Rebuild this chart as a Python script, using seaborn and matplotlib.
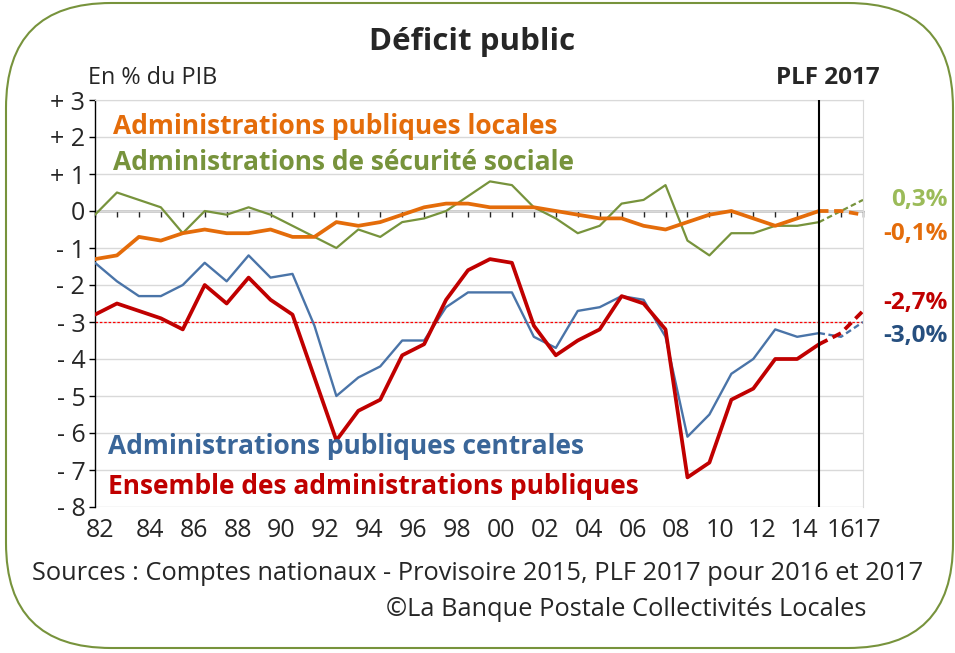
import matplotlib
matplotlib.use("Agg")
import pandas as pd
import matplotlib.pyplot as plt
import seaborn as sns
from matplotlib.patches import FancyBboxPatch

# Data (% du PIB), 1982-2017 ; 2016-2017 = PLF 2017
years = list(range(1982, 2018))
locales = [-1.3, -1.2, -0.7, -0.8, -0.6, -0.5, -0.6, -0.6, -0.5, -0.7,
           -0.7, -0.3, -0.4, -0.3, -0.1, 0.1, 0.2, 0.2, 0.1, 0.1,
           0.1, 0.0, -0.1, -0.2, -0.2, -0.4, -0.5, -0.3, -0.1, 0.0,
           -0.2, -0.4, -0.2, 0.0, 0.0, -0.1]
secu = [-0.1, 0.5, 0.3, 0.1, -0.6, 0.0, -0.1, 0.1, -0.1, -0.4,
        -0.7, -1.0, -0.5, -0.7, -0.3, -0.2, 0.0, 0.4, 0.8, 0.7,
        0.1, -0.2, -0.6, -0.4, 0.2, 0.3, 0.7, -0.8, -1.2, -0.6,
        -0.6, -0.4, -0.4, -0.3, 0.0, 0.3]
centrales = [-1.4, -1.9, -2.3, -2.3, -2.0, -1.4, -1.9, -1.2, -1.8, -1.7,
             -3.1, -5.0, -4.5, -4.2, -3.5, -3.5, -2.6, -2.2, -2.2, -2.2,
             -3.4, -3.7, -2.7, -2.6, -2.3, -2.4, -3.4, -6.1, -5.5, -4.4,
             -4.0, -3.2, -3.4, -3.3, -3.4, -3.0]
ensemble = [-2.8, -2.5, -2.7, -2.9, -3.2, -2.0, -2.5, -1.8, -2.4, -2.8,
            -4.5, -6.2, -5.4, -5.1, -3.9, -3.6, -2.4, -1.6, -1.3, -1.4,
            -3.1, -3.9, -3.5, -3.2, -2.3, -2.5, -3.2, -7.2, -6.8, -5.1,
            -4.8, -4.0, -4.0, -3.6, -3.3, -2.7]

tick_years = list(range(1982, 2015, 2)) + [2016, 2017]
tick_labels = [str(y)[2:] for y in tick_years]
y_ticks = list(range(-8, 4))
y_labels = ["- 8", "- 7", "- 6", "- 5", "- 4", "- 3", "- 2", "- 1", "0", "+ 1", "+ 2", "+ 3"]

series_names = ["Administrations de sécurité sociale",
                "Administrations publiques locales",
                "Administrations publiques centrales",
                "Ensemble des administrations publiques"]
line_colors = ["#77933C", "#E46C0A", "#4A74A8", "#C00000"]
text_colors = ["#77933C", "#E46C0A", "#3A6699", "#C00000"]
line_widths = [1.6, 2.7, 1.7, 2.7]
end_labels = ["0,3%", "-0,1%", "-3,0%", "-2,7%"]
end_colors = ["#9BBB59", "#E46C0A", "#264F7F", "#C00000"]

# Excel puts the category labels a little right of the points
label_shift = [0.25] + [0.5] * 14 + [0.4, 0.3, 0.0, 0.2]

df = pd.DataFrame({"annee": years,
                   series_names[0]: secu,
                   series_names[1]: locales,
                   series_names[2]: centrales,
                   series_names[3]: ensemble})
long = df.melt(id_vars="annee", var_name="serie", value_name="deficit")
hist = long[long["annee"] <= 2015]
proj = long[long["annee"] >= 2015]

sns.set_style("white")
plt.rcParams["font.family"] = ["Open Sans", "DejaVu Sans"]

W, H = 955, 653
fig = plt.figure(figsize=(W / 100, H / 100), dpi=100)
ax = fig.add_axes([95 / W, 1 - 507 / H, (863 - 95) / W, (507 - 100) / H])

for name, col, lw in zip(series_names, line_colors, line_widths):
    sns.lineplot(data=hist[hist["serie"] == name], x="annee", y="deficit",
                 color=col, lw=lw, ax=ax, legend=False, zorder=3)
    sns.lineplot(data=proj[proj["serie"] == name], x="annee", y="deficit",
                 color=col, lw=lw, ls=(0, (2.5, 1.5)), ax=ax, legend=False, zorder=3)

ax.set_xlim(1982, 2017)
ax.set_ylim(-8, 3)
ax.set_yticks(y_ticks)
ax.set_yticklabels(y_labels)
ax.set_xticks([])
ax.set_xlabel("")
ax.set_ylabel("")
ax.grid(axis="y", color="#D9D9D9", lw=1)
ax.set_axisbelow(True)
ax.tick_params(axis="y", direction="out", length=4, width=1, color="black",
               labelsize=18, pad=3, left=True)
for s in ["top", "right"]:
    ax.spines[s].set_color("#D9D9D9")
ax.spines["bottom"].set_visible(False)
ax.spines["left"].set_color("black")
ax.spines["left"].set_linewidth(1)

for yr, lab, sh in zip(tick_years, tick_labels, label_shift):
    ax.text(yr + sh, -0.057, lab, transform=ax.get_xaxis_transform(),
            ha="center", va="center", fontsize=18, clip_on=False)

# zero axis with yearly tick marks
zero_axis = ax.secondary_xaxis(8 / 11)
zero_axis.set_xticks(years)
zero_axis.tick_params(axis="x", direction="in", length=4, width=1,
                      labeltop=False, labelbottom=False)
for s in zero_axis.spines.values():
    s.set_color("black")
    s.set_linewidth(1)

ax.axhline(-3, color="#FF0000", lw=0.9, ls=(0, (2, 1.5)), zorder=2)
ax.axvline(2015, color="black", lw=1.5, zorder=4)

def fx(px):
    return px / W

def fy(py):
    return 1 - py / H

fig.text(fx(472), fy(42), "Déficit public", ha="center", va="center",
         fontsize=22.5, fontweight="bold")
fig.text(fx(88), fy(78), "En % du PIB", ha="left", va="center", fontsize=16.8)
fig.text(fx(880), fy(78), "PLF 2017", ha="right", va="center",
         fontsize=17.5, fontweight="bold")

label_pos = [(113, 162), (113, 126), (108, 446), (108, 486)]
for name, col, (px, py) in zip(series_names, text_colors, label_pos):
    fig.text(fx(px), fy(py), name, ha="left", va="center", color=col,
             fontsize=19, fontweight="bold")

end_y = [200, 234, 336, 303]
for lab, col, py in zip(end_labels, end_colors, end_y):
    fig.text(fx(948), fy(py), lab, ha="right", va="center", color=col,
             fontsize=17.5, fontweight="bold")

fig.text(fx(478), fy(574), "Sources : Comptes nationaux - Provisoire 2015, PLF 2017 pour 2016 et 2017",
         ha="center", va="center", fontsize=18.3)
fig.text(fx(866), fy(609), "©La Banque Postale Collectivités Locales",
         ha="right", va="center", fontsize=18.3)

border = FancyBboxPatch((6 / W, 1 - 648 / H), 947 / W, 645 / H,
                        boxstyle="round,pad=0,rounding_size=0.11",
                        mutation_aspect=W / H, transform=fig.transFigure,
                        fill=False, ec="#77933C", lw=1.5)
fig.patches.append(border)

fig.savefig("out.png", dpi=100)
